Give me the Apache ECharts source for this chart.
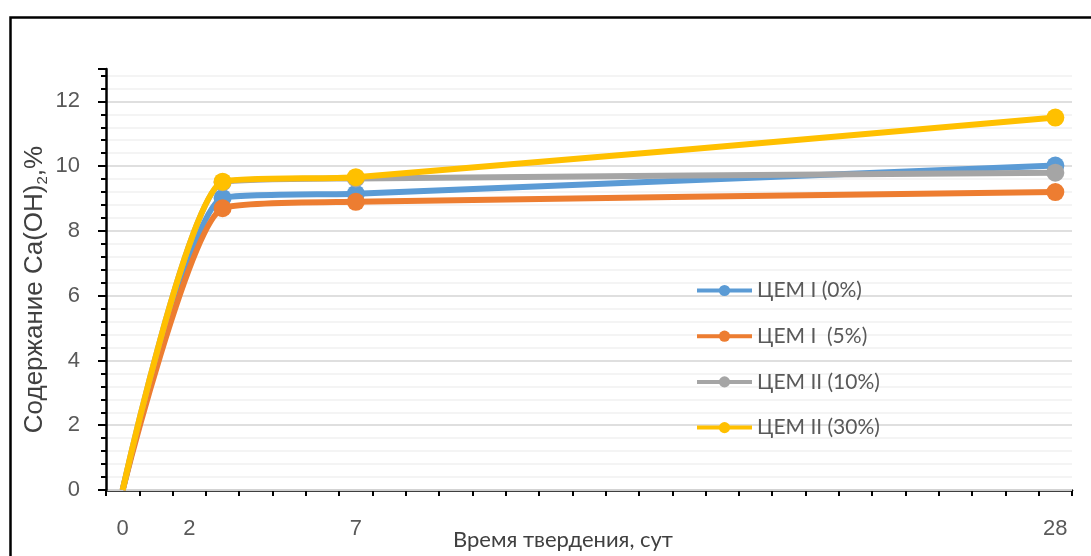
<!DOCTYPE html>
<html><head><meta charset="utf-8">
<script src="https://cdn.jsdelivr.net/npm/echarts@6/dist/echarts.min.js"></script>
<style>html,body{margin:0;padding:0;background:#fff}#c{width:1091px;height:556px}</style>
</head><body><div id="c"></div>
<script>
const categories = ['0','1','2','3','4','5','6','7','8','9','10','11','12','13','14','15','16','17','18','19','20','21','22','23','24','25','26','27','28'];
const shownLabels = ['0','2','7','28'];
const days = ['0','3','7','28'];
const cem1_0 = [0, 9.02, 9.15, 10.02];
const cem1_5 = [0, 8.7, 8.9, 9.2];
const cem2_10 = [0, 9.5, 9.62, 9.8];
const cem2_30 = [0, 9.52, 9.66, 11.5];
const seriesNames = ['ЦЕМ I (0%)', 'ЦЕМ I  (5%)', 'ЦЕМ II (10%)', 'ЦЕМ II (30%)'];
const seriesColors = ['#5B9BD5', '#ED7D31', '#A5A5A5', '#FFC000'];
const seriesValues = [cem1_0, cem1_5, cem2_10, cem2_30];

const chart = echarts.init(document.getElementById('c'), null, {renderer: 'canvas'});
const series = seriesValues.map((vals, i) => ({
  name: seriesNames[i],
  type: 'line',
  smooth: 0.2,
  symbol: 'circle',
  symbolSize: 18,
  data: days.map((d, j) => (j === 0 ? {value: [d, vals[j]], symbol: 'none'} : [d, vals[j]])),
  lineStyle: {width: 6, color: seriesColors[i]},
  itemStyle: {color: seriesColors[i]},
  z: 3 + i
}));

chart.setOption({
  animation: false,
  color: seriesColors,
  graphic: [{
    type: 'rect', left: 8, top: 15, z: 0,
    shape: {width: 1200, height: 700},
    style: {fill: 'none', stroke: '#000', lineWidth: 2.5}
  }],
  grid: {left: 106, right: 19, top: 69, bottom: 66, containLabel: false, outerBoundsMode: 'none'},
  legend: {
    orient: 'vertical', left: 695, top: 280, padding: 0,
    itemWidth: 55, itemHeight: 14, itemGap: 24.7,
    lineStyle: {width: 4},
    textStyle: {fontFamily: 'Lato', fontSize: 21, color: '#595959', lineHeight: 20},
    data: seriesNames
  },
  xAxis: {
    type: 'category',
    data: categories,
    boundaryGap: true,
    axisLine: {lineStyle: {color: '#000', width: 2.5}},
    axisTick: {show: true, interval: 0, length: 6, lineStyle: {color: '#000', width: 2}},
    axisLabel: {
      interval: (idx, val) => shownLabels.indexOf(val) >= 0,
      margin: 28, fontFamily: 'Liberation Sans', fontSize: 22, color: '#595959'
    },
    splitLine: {show: false},
    name: 'Время твердения, сут',
    nameLocation: 'middle',
    nameGap: 39,
    nameMoveOverlap: false,
    nameTextStyle: {fontFamily: 'Lato', fontSize: 22, color: '#404040', padding: [0, 52, 0, 0]}
  },
  yAxis: [{
    type: 'value', min: 0, max: 13, interval: 2, z: 2,
    axisLine: {show: true, lineStyle: {color: '#000', width: 2.5}},
    axisTick: {show: true, length: 8, lineStyle: {color: '#000', width: 2}},
    axisLabel: {
      margin: 26, fontFamily: 'Liberation Sans', fontSize: 22, color: '#595959',
      formatter: v => (v % 2 === 0 ? String(v) : '')
    },
    splitLine: {show: true, showMaxLine: false, lineStyle: {color: '#d9d9d9', width: 1.5}},
    name: '{a|Содержание Ca(OH)}{s|2}{a|,%}',
    nameLocation: 'middle',
    nameGap: 56,
    nameRotate: 90,
    nameMoveOverlap: false,
    nameTextStyle: {
      padding: [0, 20, 0, 0],
      rich: {
        a: {fontFamily: 'Liberation Sans', fontSize: 26, color: '#404040', lineHeight: 30, verticalAlign: 'middle'},
        s: {fontFamily: 'Liberation Sans', fontSize: 15, color: '#404040', lineHeight: 16, verticalAlign: 'bottom'}
      }
    }
  }, {
    type: 'value', min: 0, max: 13, interval: 0.4, position: 'left', z: 1,
    axisLine: {show: false},
    axisTick: {show: true, length: 5, lineStyle: {color: '#000', width: 2}},
    axisLabel: {show: false},
    splitLine: {show: true, showMaxLine: false, lineStyle: {color: '#f0f0f0', width: 1.5}}
  }],
  series: series
});
</script></body></html>
